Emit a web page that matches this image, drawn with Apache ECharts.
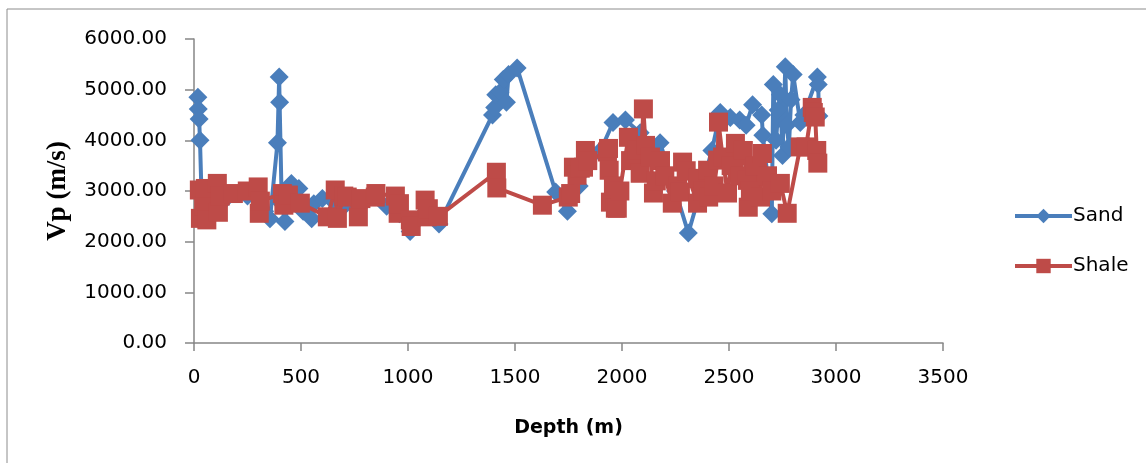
<!DOCTYPE html>
<html><head><meta charset="utf-8">
<script src="https://cdn.jsdelivr.net/npm/echarts@6/dist/echarts.min.js"></script>
<style>html,body{margin:0;padding:0;background:#fff}#c{width:1146px;height:463px}</style>
</head><body><div id="c"></div>
<script>
const xTicks = [0, 500, 1000, 1500, 2000, 2500, 3000, 3500];
const yTicks = [0, 1000, 2000, 3000, 4000, 5000, 6000];
const seriesNames = ["Sand", "Shale"];
const sandDepth = [18,20,24,28,35,80,150,250,330,355,390,398,400,410,425,455,490,510,550,560,600,650,700,800,900,960,1010,1050,1145,1395,1405,1410,1430,1445,1460,1470,1510,1690,1745,1800,1900,1958,2016,2085,2130,2178,2250,2310,2360,2420,2459,2506,2550,2580,2610,2653,2658,2700,2707,2720,2730,2740,2750,2763,2770,2780,2790,2800,2833,2850,2913,2917,2920];
const sandVp = [4850,4620,4420,4000,2950,2700,2850,2900,2600,2450,3950,5250,4750,2750,2400,3150,3050,2600,2450,2750,2850,2800,2700,2800,2700,2550,2200,2450,2350,4500,4650,4900,4950,5200,4750,5300,5430,2980,2600,3100,3800,4350,4400,4150,3900,3950,3000,2170,2900,3800,4550,4450,4400,4300,4700,4500,4100,2550,5100,4000,4600,4900,3700,5450,4300,3870,4800,5300,4350,4500,5250,5100,4480];
const shaleDepth = [25,30,45,53,60,109,114,123,184,249,300,305,310,413,420,441,497,623,660,670,700,716,768,780,847,850,941,954,960,1011,1015,1080,1090,1095,1142,1413,1415,1628,1749,1760,1773,1790,1805,1820,1829,1840,1932,1937,1940,1946,1960,1969,1978,1990,2030,2040,2072,2085,2100,2110,2133,2147,2160,2180,2200,2235,2260,2273,2283,2300,2353,2355,2380,2400,2405,2430,2447,2451,2470,2493,2510,2530,2550,2567,2586,2590,2600,2620,2647,2656,2680,2700,2740,2772,2833,2860,2889,2894,2903,2910,2915];
const shaleVp = [3020,2460,2700,3050,2430,3150,2580,2900,2950,3000,3080,2560,2800,2950,2720,2920,2760,2490,3020,2460,2900,2880,2490,2850,2880,2950,2900,2560,2750,2430,2300,2820,2490,2650,2500,3370,3060,2720,2880,2950,3470,3310,3450,3470,3800,3600,3770,3840,3410,2780,3100,2660,2660,3000,4060,3600,3800,3350,4620,3900,3670,2960,3200,3600,3300,2760,3100,2980,3570,3400,2760,3250,3000,3410,2880,3100,3610,4360,3670,2960,3500,3940,3300,3800,3210,2680,3000,3500,2880,3740,3300,3000,3150,2560,3870,3870,4650,4550,4460,3800,3550];

const sand = sandDepth.map((d, i) => [d, sandVp[i]]);
const shale = shaleDepth.map((d, i) => [d, shaleVp[i]]);
const BLUE = '#4A7EBB', RED = '#BE4B48';
const labelFont = 'DejaVu Sans';
const chart = echarts.init(document.getElementById('c'), null, {renderer: 'canvas'});
chart.setOption({
  animation: false,
  graphic: [{type: 'rect', shape: {x: 7, y: 9, width: 1160, height: 470}, style: {fill: 'none', stroke: '#8c8c8c', lineWidth: 1}, silent: true}],
  grid: {left: 194, right: 203, top: 39, bottom: 120, containLabel: false},
  xAxis: {
    type: 'value', min: xTicks[0], max: xTicks[xTicks.length - 1], interval: 500,
    name: 'Depth (m)', nameLocation: 'middle', nameGap: 76,
    nameTextStyle: {fontFamily: labelFont, fontWeight: 'bold', fontSize: 19, color: '#000'},
    axisLine: {lineStyle: {color: '#868686', width: 1.5}},
    axisTick: {length: 8, lineStyle: {color: '#868686', width: 1.5}},
    axisLabel: {fontFamily: labelFont, fontSize: 20, color: '#000', margin: 25, formatter: v => String(v)},
    splitLine: {show: false}
  },
  yAxis: {
    type: 'value', min: yTicks[0], max: yTicks[yTicks.length - 1], interval: 1000,
    name: 'Vp (m/s)', nameLocation: 'middle', nameGap: 122, nameRotate: 90,
    nameTextStyle: {fontFamily: 'Liberation Serif', fontWeight: 'bold', fontSize: 27, color: '#000'},
    axisLine: {show: true, lineStyle: {color: '#868686', width: 1.5}},
    axisTick: {show: true, length: 9, lineStyle: {color: '#868686', width: 1.5}},
    axisLabel: {fontFamily: labelFont, fontSize: 20, color: '#000', margin: 27, formatter: v => v.toFixed(2)},
    splitLine: {show: false}
  },
  legend: {
    orient: 'vertical', left: 1008, top: 201, itemGap: 30, itemWidth: 57, itemHeight: 18,
    data: seriesNames,
    lineStyle: {width: 4},
    textStyle: {fontFamily: labelFont, fontSize: 20, color: '#000', padding: [0, 0, 0, -4]}
  },
  series: [
    {name: seriesNames[0], type: 'line', data: sand, symbol: 'diamond', symbolSize: 19,
     itemStyle: {color: BLUE}, lineStyle: {color: BLUE, width: 4}, z: 2},
    {name: seriesNames[1], type: 'line', data: shale, symbol: 'rect', symbolSize: 19,
     itemStyle: {color: RED}, lineStyle: {color: RED, width: 4}, z: 3}
  ]
});
</script></body></html>
